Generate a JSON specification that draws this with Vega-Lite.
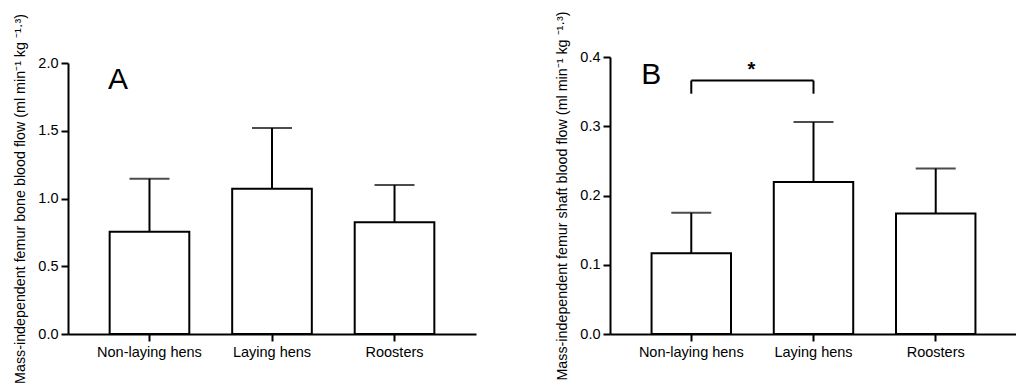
{
  "$schema": "https://vega.github.io/schema/vega-lite/v6.json",
  "padding": {"left": 13, "top": 10, "right": 0, "bottom": 0},
  "background": "white",
  "config": {
    "view": {"stroke": null},
    "font": "Liberation Sans",
    "axis": {
      "domainColor": "black", "domainWidth": 2, "tickColor": "black", "tickWidth": 2, "tickSize": 7,
      "labelColor": "black", "labelFontSize": 14.5, "labelFont": "Liberation Sans",
      "titleColor": "black", "titleFontSize": 14.3, "titleFontWeight": "normal", "titleFont": "Liberation Sans",
      "grid": false
    }
  },
  "datasets": {
    "a": [
      {"group": "Non-laying hens", "mean": 0.755, "upper": 1.146},
      {"group": "Laying hens", "mean": 1.072, "upper": 1.52},
      {"group": "Roosters", "mean": 0.825, "upper": 1.10}
    ],
    "b": [
      {"group": "Non-laying hens", "mean": 0.1165, "upper": 0.175},
      {"group": "Laying hens", "mean": 0.2195, "upper": 0.306},
      {"group": "Roosters", "mean": 0.174, "upper": 0.239}
    ],
    "bracket": [
      {"from": "Non-laying hens", "to": "Laying hens", "y": 0.366, "yEnd": 0.347}
    ]
  },
  "hconcat": [
    {
      "width": 408, "height": 277,
      "data": {"name": "a"},
      "encoding": {
        "x": {"field": "group", "type": "nominal", "sort": null,
              "scale": {"domain": ["Non-laying hens", "Laying hens", "Roosters"], "paddingInner": 0.35, "paddingOuter": 0.34},
              "axis": {"title": null, "labelAngle": 0, "labelPadding": 4}}
      },
      "layer": [
        {
          "mark": {"type": "bar", "fill": "white", "stroke": "black", "strokeWidth": 2},
          "encoding": {
            "y": {"field": "mean", "type": "quantitative",
                  "scale": {"domain": [0, 2], "range": [277, 6], "nice": false, "zero": true},
                  "axis": {"values": [0, 0.5, 1, 1.5, 2], "format": ".1f", "labelPadding": 3, "titlePadding": 10,
                           "title": "Mass-independent femur bone blood flow (ml min⁻¹ kg ⁻¹·³)"}}
          }
        },
        {
          "mark": {"type": "rule", "stroke": "black", "strokeWidth": 2},
          "encoding": {"y": {"field": "mean", "type": "quantitative"}, "y2": {"field": "upper"}}
        },
        {
          "mark": {"type": "tick", "color": "black", "size": 40, "thickness": 2},
          "encoding": {"y": {"field": "upper", "type": "quantitative"}}
        },
        {
          "data": {"values": [{"label": "A", "group": "Non-laying hens"}]},
          "mark": {"type": "text", "fontSize": 30, "color": "black", "dx": -31.5, "align": "center", "baseline": "alphabetic"},
          "encoding": {"text": {"field": "label"}, "y": {"datum": 1.806, "type": "quantitative"}}
        }
      ]
    },
    {
      "width": 407, "height": 277,
      "data": {"name": "b"},
      "encoding": {
        "x": {"field": "group", "type": "nominal", "sort": null,
              "scale": {"domain": ["Non-laying hens", "Laying hens", "Roosters"], "paddingInner": 0.35, "paddingOuter": 0.34},
              "axis": {"title": null, "labelAngle": 0, "labelPadding": 4}}
      },
      "layer": [
        {
          "mark": {"type": "bar", "fill": "white", "stroke": "black", "strokeWidth": 2},
          "encoding": {
            "y": {"field": "mean", "type": "quantitative",
                  "scale": {"domain": [0, 0.4], "nice": false, "zero": true},
                  "axis": {"values": [0, 0.1, 0.2, 0.3, 0.4], "format": ".1f", "labelPadding": 3, "titlePadding": 10,
                           "title": "Mass-independent femur shaft blood flow (ml min⁻¹ kg ⁻¹·³)"}}
          }
        },
        {
          "mark": {"type": "rule", "stroke": "black", "strokeWidth": 2},
          "encoding": {"y": {"field": "mean", "type": "quantitative"}, "y2": {"field": "upper"}}
        },
        {
          "mark": {"type": "tick", "color": "black", "size": 40, "thickness": 2},
          "encoding": {"y": {"field": "upper", "type": "quantitative"}}
        },
        {
          "data": {"name": "bracket"},
          "mark": {"type": "rule", "stroke": "black", "strokeWidth": 2},
          "encoding": {"x": {"field": "from", "type": "nominal"}, "x2": {"field": "to"}, "y": {"field": "y", "type": "quantitative"}}
        },
        {
          "data": {"name": "bracket"},
          "mark": {"type": "rule", "stroke": "black", "strokeWidth": 2},
          "encoding": {"x": {"field": "from", "type": "nominal"}, "y": {"field": "yEnd", "type": "quantitative"}, "y2": {"field": "y"}}
        },
        {
          "data": {"name": "bracket"},
          "mark": {"type": "rule", "stroke": "black", "strokeWidth": 2},
          "encoding": {"x": {"field": "to", "type": "nominal"}, "y": {"field": "yEnd", "type": "quantitative"}, "y2": {"field": "y"}}
        },
        {
          "data": {"values": [{"label": "*", "group": "Laying hens"}]},
          "mark": {"type": "text", "fontSize": 20, "fontWeight": "bold", "color": "black", "dx": -62, "align": "center", "baseline": "alphabetic"},
          "encoding": {"text": {"field": "label"}, "y": {"datum": 0.372, "type": "quantitative"}}
        },
        {
          "data": {"values": [{"label": "B", "group": "Non-laying hens"}]},
          "mark": {"type": "text", "fontSize": 30, "color": "black", "dx": -40, "align": "center", "baseline": "alphabetic"},
          "encoding": {"text": {"field": "label"}, "y": {"datum": 0.3616, "type": "quantitative"}}
        }
      ]
    }
  ],
  "spacing": 79
}
